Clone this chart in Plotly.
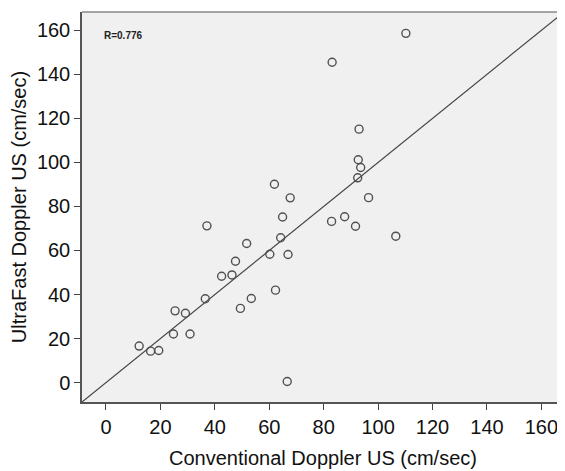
import plotly.graph_objects as go

conventional = [110.2, 83.1, 93.0, 92.7, 93.6, 92.5, 96.5, 61.9, 67.7, 64.9, 64.2, 60.2, 66.9, 62.3,
                37.1, 51.7, 47.6, 42.5, 46.3, 36.5, 53.4, 49.4, 25.4, 29.2, 24.8, 30.9, 12.2, 16.4,
                19.4, 87.7, 82.9, 91.7, 106.5, 66.6]
ultrafast = [158.6, 145.5, 115.1, 101.2, 97.7, 93.0, 84.0, 90.1, 83.9, 75.2, 65.8, 58.3, 58.2, 42.0,
             71.2, 63.2, 55.1, 48.3, 48.9, 38.1, 38.2, 33.7, 32.6, 31.5, 22.1, 22.1, 16.6, 14.3,
             14.6, 75.3, 73.2, 71.0, 66.5, 0.5]
tick_vals = [0, 20, 40, 60, 80, 100, 120, 140, 160]
axis_range = [-8.8, 168.3]
r_text = "R=0.776"

font_family = "Liberation Sans, Arial, Helvetica, sans-serif"

fig = go.Figure()
fig.add_trace(go.Scatter(
    x=axis_range, y=axis_range, mode="lines",
    line=dict(color="#444444", width=1.2), hoverinfo="skip", showlegend=False))
fig.add_trace(go.Scatter(
    x=conventional, y=ultrafast, mode="markers",
    marker=dict(symbol="circle-open", size=8, color="#505050", line=dict(width=1.4, color="#505050")),
    showlegend=False))

axis_common = dict(
    range=axis_range, tickvals=tick_vals, ticks="outside", ticklen=6, tickwidth=1,
    tickcolor="#444444", showline=True, linecolor="#555555", linewidth=1.5,
    showgrid=False, zeroline=False, automargin=False,
    tickfont=dict(size=20, color="#111111", family=font_family),
)

# The page body has an 8px default margin, so the figure is sized to fit the window.
fig.update_layout(
    width=557, height=463,
    margin=dict(l=74, r=1, t=4, b=69),
    paper_bgcolor="white", plot_bgcolor="#f0f0f0",
    font=dict(family=font_family, color="#111111"),
    xaxis=dict(**axis_common, title=dict(text="Conventional Doppler US (cm/sec)", font=dict(size=20), standoff=14)),
    yaxis=dict(**axis_common, title=dict(text="UltraFast Doppler US (cm/sec)", font=dict(size=20), standoff=6)),
    shapes=[dict(type="line", xref="paper", yref="paper", x0=0, x1=1, y0=1, y1=1,
                 line=dict(color="#888888", width=1.5))],
    annotations=[dict(text="<b>" + r_text + "</b>", xref="paper", yref="paper", x=0.041, y=0.941,
                      xanchor="left", yanchor="middle", showarrow=False,
                      font=dict(size=10, color="#222222"))],
)

fig.write_html("out.html")
